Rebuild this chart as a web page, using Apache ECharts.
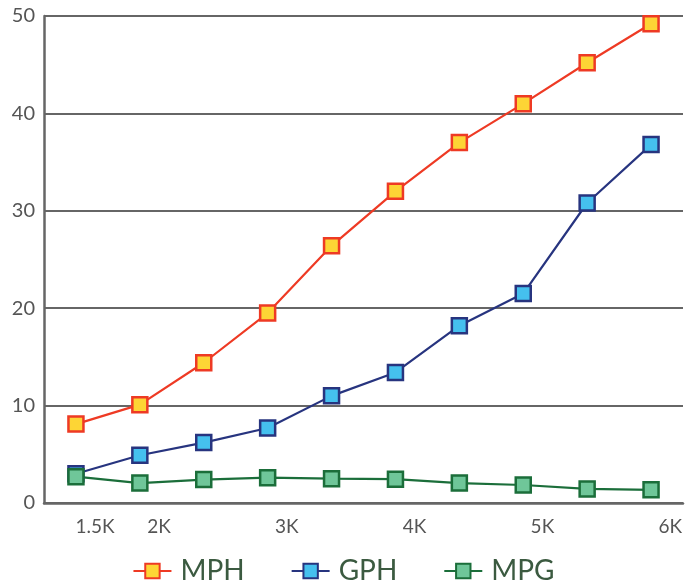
<!DOCTYPE html>
<html>
<head>
<meta charset="utf-8">
<script src="https://cdn.jsdelivr.net/npm/echarts@6/dist/echarts.min.js"></script>
<style>html,body{margin:0;padding:0;background:#fff}#c{width:687px;height:584px}</style>
</head>
<body>
<div id="c"></div>
<script>
const rpm = [1350, 1850, 2350, 2850, 3350, 3850, 4350, 4850, 5350, 5850];
const mph = [8.1, 10.1, 14.4, 19.5, 26.4, 32.0, 37.0, 41.0, 45.2, 49.2];
const gph = [3.0, 4.9, 6.2, 7.7, 11.0, 13.4, 18.2, 21.5, 30.8, 36.8];
const mpg = [2.7, 2.05, 2.4, 2.6, 2.5, 2.45, 2.05, 1.85, 1.45, 1.35];
const xTicks = [1500, 2000, 3000, 4000, 5000, 6000];
const yTicks = [0, 10, 20, 30, 40, 50];

const pair = (xs, ys) => xs.map((x, i) => [x, ys[i]]);
const mk = (name, data, line, fill) => ({
  name, type: 'line', data: pair(rpm, data),
  symbol: 'rect', symbolSize: 15,
  lineStyle: { color: line, width: 2.2 },
  itemStyle: { color: fill, borderColor: line, borderWidth: 2.5 },
  emphasis: { disabled: true }
});

const chart = echarts.init(document.getElementById('c'), null, { renderer: 'canvas' });
chart.setOption({
  animation: false,
  grid: { left: 44, right: 4, top: 16, bottom: 81, containLabel: false },
  xAxis: {
    type: 'value', min: 1100, max: 6100,
    axisLine: { show: true, lineStyle: { color: '#666', width: 2.5 } },
    axisTick: { show: false },
    splitLine: { show: false },
    axisLabel: {
      customValues: xTicks, margin: 14,
      fontFamily: 'Lato', fontSize: 19, color: '#555',
      formatter: v => (v / 1000) + 'K'
    }
  },
  yAxis: {
    type: 'value', min: 0, max: 50, interval: 10,
    axisLine: { show: true, lineStyle: { color: '#666', width: 2.5 } },
    axisTick: { show: false },
    splitLine: { show: true, lineStyle: { color: '#666', width: 2 } },
    axisLabel: {
      customValues: yTicks, margin: 9,
      fontFamily: 'Lato', fontSize: 20, color: '#555'
    }
  },
  legend: {
    bottom: -6, left: 'center', itemGap: 46,
    itemWidth: 38, itemHeight: 18,
    textStyle: { fontFamily: 'Lato', fontSize: 28, color: '#3b5a40', padding: [0, 0, 0, 4] },
    data: ['MPH', 'GPH', 'MPG']
  },
  series: [
    mk('MPH', mph, '#ee3a24', '#fdd535'),
    mk('GPH', gph, '#27347f', '#45c0ee'),
    mk('MPG', mpg, '#1b6e3a', '#6fc699')
  ]
});
</script>
</body>
</html>
